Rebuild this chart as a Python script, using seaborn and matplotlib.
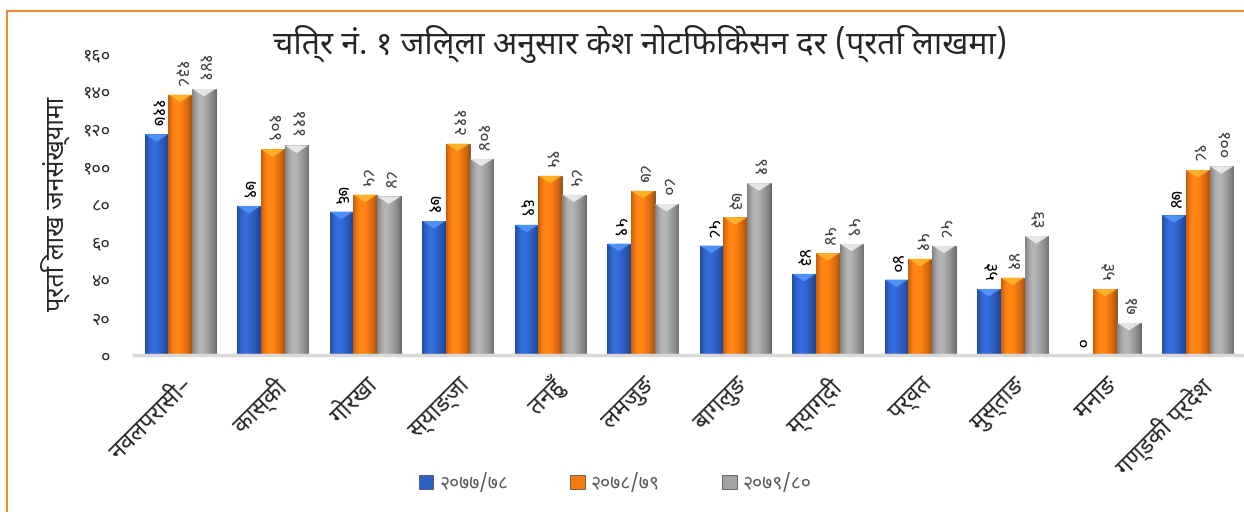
import numpy as np
import pandas as pd
import matplotlib
matplotlib.use("Agg")
import matplotlib.pyplot as plt
import matplotlib.colors as mcolors
from matplotlib.patches import Polygon
import seaborn as sns

districts = ["नवलपरासी–", "कास्की", "गोरखा", "स्याङ्जा", "तनहुँ", "लमजुङ",
             "बागलुङ", "म्याग्दी", "पर्वत", "मुस्ताङ", "मनाङ", "गण्डकी प्रदेश"]
years = ["२०७७/७८", "२०७८/७९", "२०७९/८०"]
v_7778 = [117, 79, 76, 71, 69, 59, 58, 43, 40, 35, 0, 74]
v_7879 = [138, 109, 85, 112, 95, 87, 73, 54, 51, 41, 35, 98]
v_7980 = [141, 111, 84, 104, 85, 80, 91, 59, 58, 63, 17, 100]
yticks = [0, 20, 40, 60, 80, 100, 120, 140, 160]
title = "चित्र नं. १ जिल्ला अनुसार केश नोटिफिकेसन दर (प्रति लाखमा)"
ylabel = "प्रति लाख जनसंख्यामा"

sns.set_theme(style="white")
plt.rcParams["font.family"] = ["Noto Sans Devanagari", "DejaVu Sans"]

DIG = str.maketrans("0123456789", "०१२३४५६७८९")
def deva(n):
    return str(n).translate(DIG)

df = pd.DataFrame({
    "district": districts * 3,
    "year": [years[0]] * 12 + [years[1]] * 12 + [years[2]] * 12,
    "value": v_7778 + v_7879 + v_7980,
})

colors = ["#2f62c8", "#f57a12", "#a3a3a3"]
fig = plt.figure(figsize=(12.44, 5.12), dpi=100)
ax = fig.add_axes([134 / 1244, 1 - 355 / 512, (1244 - 134) / 1244, (355 - 53) / 512])
sns.barplot(data=df, x="district", y="value", hue="year", palette=colors,
            width=0.77, ax=ax, saturation=1, edgecolor="#3a3a3a", linewidth=0.5,
            legend=True)

# bevelled / gradient look of the bars
prof = np.array([0.78, 0.95, 1.08, 1.12, 1.08, 1.0, 0.92, 0.82, 0.7])
xs = np.linspace(0, 1, 60)
fac = np.interp(xs, np.linspace(0, 1, len(prof)), prof)
for cont, col in zip(ax.containers, colors):
    base = np.array(mcolors.to_rgb(col))
    grad = np.clip(base[None, :] * fac[:, None], 0, 1)[None, :, :]
    for p in cont.patches:
        x, w, h = p.get_x(), p.get_width(), p.get_height()
        if h <= 0:
            continue
        im = ax.imshow(grad, extent=[x, x + w, 0, h], aspect="auto", zorder=p.get_zorder(),
                       interpolation="bilinear")
        im.set_clip_path(p)
        cap_h = min(4.0, h)
        light = np.clip(base * 1.35 + 0.08, 0, 1)
        ax.add_patch(Polygon([[x, h], [x + w, h], [x + w / 2, h - cap_h]], closed=True,
                             facecolor=light, edgecolor="none", alpha=0.85,
                             zorder=p.get_zorder() + 0.1))

ax.set_ylim(0, 160)
ax.set_xlim(-0.5, 11.5)
ax.set_yticks(yticks)
ax.set_yticklabels([deva(t) for t in yticks], fontsize=13)
ax.tick_params(axis="y", length=0, pad=17)
ax.set_xlabel("")
ax.set_ylabel(ylabel, fontsize=18, labelpad=9)
ax.set_xticks(range(12))
ax.set_xticklabels(districts, rotation=45, ha="right", rotation_mode="anchor",
                   fontsize=17, fontweight="bold")
ax.tick_params(axis="x", length=0, pad=13)
for s in ["left", "right", "top"]:
    ax.spines[s].set_visible(False)
ax.spines["bottom"].set_color("#d9d9d9")
ax.spines["bottom"].set_linewidth(2.5)

lab_colors = ["black", "#404040", "#404040"]
lab_weights = ["bold", "normal", "normal"]
for cont, lc, lw in zip(ax.containers, lab_colors, lab_weights):
    ax.bar_label(cont, labels=[deva(int(v)) for v in cont.datavalues], rotation=270,
                 padding=5, fontsize=13, color=lc, fontweight=lw)

handles, labels = ax.get_legend_handles_labels()
ax.legend(handles, labels, loc="center", bbox_to_anchor=(0.5 - 74 / 1110, (355 - 484) / 302),
          ncol=3, frameon=False, fontsize=14, handlelength=0.75, handleheight=0.75,
          columnspacing=3.2, handletextpad=0.3, labelcolor="#595959")

fig.text(640 / 1244, 1 - 44 / 512, title, ha="center", va="center", fontsize=23)

border = plt.Rectangle((7 / 1244, -0.1), 1.2, 1 - 11 / 512 + 0.1, transform=fig.transFigure,
                       fill=False, edgecolor="#f0883a", linewidth=1.5)
fig.patches.append(border)

fig.savefig("out.png", dpi=100)
